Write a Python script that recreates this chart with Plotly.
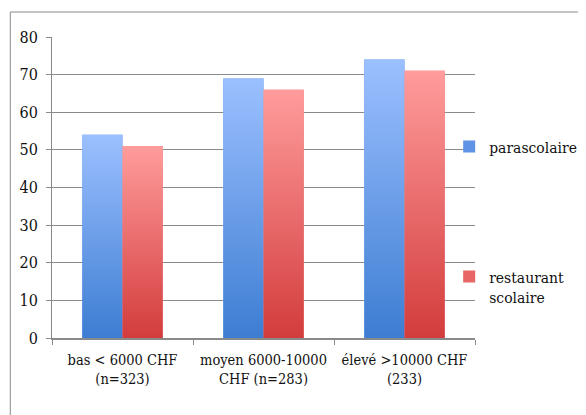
import plotly.graph_objects as go

categories = ["bas < 6000 CHF<br>(n=323)", "moyen 6000-10000<br>CHF (n=283)", "élevé >10000 CHF<br>(233)"]
series_names = ["parascolaire", "restaurant<br>scolaire"]
parascolaire = [54, 69, 74]
restaurant = [51, 66, 71]
y_ticks = [0, 10, 20, 30, 40, 50, 60, 70, 80]

series_values = [parascolaire, restaurant]
grad = [
    [[0, "#3d7dd2"], [1, "#9cc0ff"]],
    [[0, "#d33c3c"], [1, "#ff9c9c"]],
]
solid = ["#5f93e3", "#e86666"]
legends = ["legend", "legend2"]

W, H = 586, 415
OFF = 8  # page body margin
L, R, T, B = 52 - OFF, 116, 37 - OFF, 85
pw, ph = W - L - R, H - T - B
bargap = 0.43
xs = list(range(len(categories)))

FONT = "DejaVu Serif Condensed, DejaVu Serif"
fig = go.Figure()

for i, (name, vals) in enumerate(zip(series_names, series_values)):
    fig.add_trace(go.Bar(
        x=xs, y=vals, name=name, marker=dict(color=solid[i], line=dict(width=0)),
        legend=legends[i], hoverinfo="skip",
    ))

bw = (1 - bargap) / len(series_values)
for i, vals in enumerate(series_values):
    for j, v in enumerate(vals):
        x0 = xs[j] - (1 - bargap) / 2 + i * bw
        x1 = x0 + bw
        fig.add_trace(go.Scatter(
            x=[x0, x1, x1, x0, x0], y=[0, 0, v, v, 0],
            mode="lines", line=dict(width=0), fill="toself",
            fillgradient=dict(type="vertical", colorscale=grad[i]),
            showlegend=False, hoverinfo="skip",
        ))

def px_x(p):
    return (p - OFF - L) / pw

def px_y(p):
    return 1 - (p - OFF - T) / ph

fnt = dict(family=FONT, size=14.5, color="#111")
lfnt = dict(family=FONT, size=15.5, color="#111")

fig.update_layout(
    width=W, height=H,
    margin=dict(l=L, r=R, t=T, b=B),
    paper_bgcolor="white", plot_bgcolor="white",
    barmode="group", bargap=bargap, bargroupgap=0,
    font=fnt,
    showlegend=True,
    legend=dict(x=px_x(452), y=px_y(147), xanchor="left", yanchor="middle",
                bgcolor="rgba(0,0,0,0)", itemwidth=30, font=lfnt),
    legend2=dict(x=px_x(452), y=px_y(260), xanchor="left", yanchor="top",
                 bgcolor="rgba(0,0,0,0)", itemwidth=30, valign="top", font=lfnt),
    xaxis=dict(
        range=[-0.5, 2.5], tickmode="array", tickvals=xs, ticktext=categories,
        ticks="", showgrid=False, zeroline=False, tickangle=0, ticklabelstandoff=8,
        showline=True, linecolor="#8a8a8a", linewidth=1.5,
        minor=dict(tickmode="array", tickvals=[-0.5, 0.5, 1.5, 2.5], ticks="outside",
                   ticklen=5, tickcolor="#8a8a8a", tickwidth=1, showgrid=False),
        tickfont=fnt,
    ),
    yaxis=dict(
        range=[0, 80], tickmode="array", tickvals=y_ticks,
        ticks="outside", ticklen=5, tickcolor="#8a8a8a", ticklabelstandoff=5,
        showgrid=True, gridcolor="#8a8a8a", gridwidth=1,
        zeroline=False, showline=True, linecolor="#8a8a8a", linewidth=1,
        tickfont=dict(family=FONT, size=16, color="#111"),
    ),
    shapes=[dict(type="rect", xref="paper", yref="paper",
                 x0=px_x(10), x1=px_x(W + 20),
                 y0=px_y(H + 20), y1=px_y(12),
                 line=dict(color="#8a8a8a", width=1), fillcolor="rgba(0,0,0,0)")],
)

fig.write_html("out.html")
